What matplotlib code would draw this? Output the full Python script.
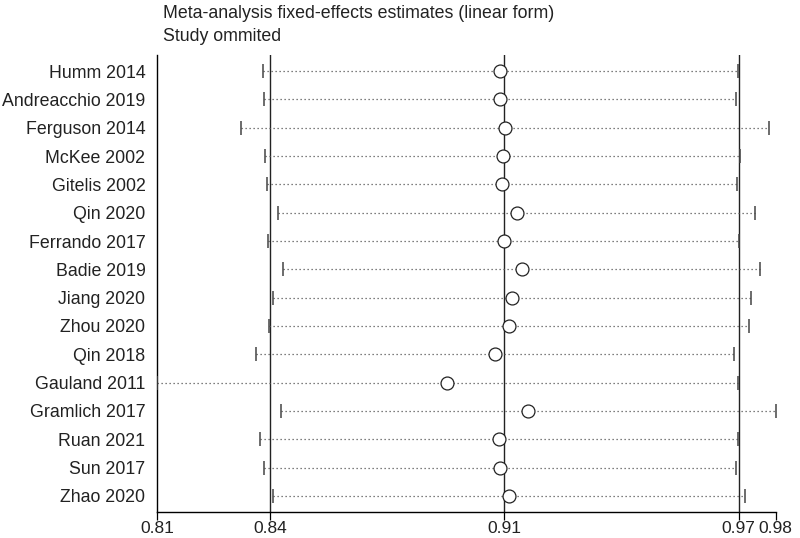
import numpy as np
import matplotlib
matplotlib.use("Agg")
import matplotlib.pyplot as plt

plt.rcParams['font.family'] = ['Liberation Sans', 'DejaVu Sans']

studies = ["Humm 2014", "Andreacchio 2019", "Ferguson 2014", "McKee 2002", "Gitelis 2002",
           "Qin 2020", "Ferrando 2017", "Badie 2019", "Jiang 2020", "Zhou 2020", "Qin 2018",
           "Gauland 2011", "Gramlich 2017", "Ruan 2021", "Sun 2017", "Zhao 2020"]
est = [0.9059, 0.9057, 0.9073, 0.9066, 0.9063, 0.9104, 0.9068, 0.9119, 0.9092, 0.9082,
       0.9045, 0.8912, 0.9137, 0.9055, 0.9057, 0.9082]
lower = [0.8401, 0.8403, 0.8340, 0.8407, 0.8411, 0.8442, 0.8413, 0.8457, 0.8429, 0.8417,
         0.8382, 0.8107, 0.8451, 0.8393, 0.8402, 0.8428]
upper = [0.9718, 0.9712, 0.9804, 0.9724, 0.9716, 0.9766, 0.9722, 0.9779, 0.9754, 0.9748,
         0.9707, 0.9717, 0.9823, 0.9719, 0.9712, 0.9737]
# overall pooled estimate and CI
overall = [0.842, 0.907, 0.972]

fig = plt.figure(figsize=(8, 5.38), dpi=100)
ax = fig.add_axes([157.3/800, 26/538, (775.7-157.3)/800, (512-55)/538])

y = np.arange(len(studies))
for v in overall:
    ax.axvline(v, color="#222222", lw=1.0, zorder=1)
for i in range(len(studies)):
    ax.plot([lower[i], upper[i]], [y[i], y[i]], ls=(0, (1, 2.2)), color="#555555", lw=0.9, zorder=2)
ax.plot(lower, y, ls="none", marker="|", ms=10, mew=1.1, color="#444444", zorder=3)
ax.plot(upper, y, ls="none", marker="|", ms=10, mew=1.1, color="#444444", zorder=3)
ax.plot(est, y, ls="none", marker="o", ms=9.3, mfc="white", mec="#222222", mew=0.9, zorder=4)

xmin, xmax = min(lower), max(upper)
ax.set_xlim(xmin, xmax)
ax.set_ylim(len(studies) - 1 + 0.565, -0.565)
ticks = [xmin] + overall + [xmax]
ax.set_xticks(ticks)
ax.set_xticklabels(["%.2f" % t for t in ticks])
ax.set_yticks(y)
ax.set_yticklabels(studies)
ax.tick_params(axis="y", length=0, pad=8.5, labelsize=12.8, labelcolor="#222222")
ax.tick_params(axis="x", length=6, width=0.9, direction="out", pad=0.8, labelsize=12.5,
               labelcolor="#222222")
ax.spines["top"].set_visible(False)
ax.spines["right"].set_visible(False)
ax.spines["left"].set_linewidth(1.0)
ax.spines["bottom"].set_linewidth(1.0)

fig.text(162.7/800, 1 - 14/538, "Meta-analysis fixed-effects estimates (linear form)", fontsize=12.8,
         va="center", color="#222222")
fig.text(162.7/800, 1 - 37/538, "Study ommited", fontsize=12.8, va="center", color="#222222")

fig.savefig("out.png", dpi=100)
